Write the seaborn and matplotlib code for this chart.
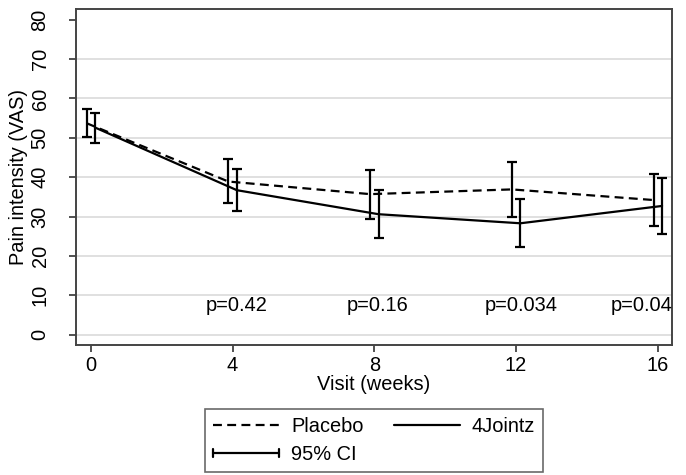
import pandas as pd
import matplotlib
matplotlib.use('Agg')
import matplotlib.pyplot as plt
import seaborn as sns
from matplotlib.lines import Line2D
from matplotlib.legend_handler import HandlerBase

# valores
weeks = [0, 4, 8, 12, 16]
placebo_mean = [53.7, 38.9, 35.7, 36.9, 34.2]
placebo_lo = [50.1, 33.5, 29.5, 29.9, 27.6]
placebo_hi = [57.4, 44.6, 41.8, 43.9, 40.8]
joint_mean = [52.6, 36.7, 30.6, 28.3, 32.7]
joint_lo = [48.8, 31.4, 24.5, 22.2, 25.7]
joint_hi = [56.4, 42.0, 36.7, 34.4, 39.7]
p_labels = ['p=0.42', 'p=0.16', 'p=0.034', 'p=0.04']
p_weeks = [4.1, 8.1, 12.13, 15.53]
p_level = 7.5

offset = 0.12  # desplazamiento horizontal de cada grupo

df = pd.concat([
    pd.DataFrame({'Grupo': 'Placebo', 'x': [w - offset for w in weeks],
                  'media': placebo_mean, 'lo': placebo_lo, 'hi': placebo_hi}),
    pd.DataFrame({'Grupo': '4Jointz', 'x': [w + offset for w in weeks],
                  'media': joint_mean, 'lo': joint_lo, 'hi': joint_hi}),
], ignore_index=True)

sns.set_style('white')
plt.rcParams['font.family'] = ['Liberation Sans', 'DejaVu Sans']
plt.rcParams['text.color'] = 'black'
plt.rcParams['axes.labelcolor'] = 'black'
plt.rcParams['xtick.color'] = 'black'
plt.rcParams['ytick.color'] = 'black'
fs = 14.4

fig = plt.figure(figsize=(6.86, 4.75), dpi=100)
ax = fig.add_axes([76 / 686, 1 - 345 / 475, (672 - 76) / 686, (345 - 9) / 475])

# lineas de referencia
for g in range(0, 80, 10):
    ax.axhline(g, color='#dddddd', lw=1.3, zorder=0)

sns.lineplot(data=df, x='x', y='media', style='Grupo', color='black',
             dashes={'Placebo': (4, 2.4), '4Jointz': ''}, lw=1.6,
             legend=False, ax=ax, errorbar=None)

for _, r in df.iterrows():
    ax.errorbar(r['x'], r['media'], yerr=[[r['media'] - r['lo']], [r['hi'] - r['media']]],
                fmt='none', ecolor='black', elinewidth=1.6, capsize=3.5, capthick=1.6)

for lab, xp in zip(p_labels, p_weeks):
    ax.text(xp, p_level, lab, ha='center', va='center', fontsize=fs)

ax.set_xlim(-0.42, 16.4)
ax.set_ylim(-2.6, 82.7)
ax.set_xticks(weeks)
ax.set_yticks(range(0, 90, 10))
ax.tick_params(axis='both', direction='out', length=5, width=1.2, color='#333333',
               labelsize=fs, left=True, bottom=True)
ax.tick_params(axis='x', pad=3)
ax.tick_params(axis='y', pad=14)
for t in ax.get_yticklabels():
    t.set_rotation(90)
    t.set_va('center')
ax.set_xlabel('Visit (weeks)', fontsize=fs, labelpad=0)
ax.set_ylabel('Pain intensity (VAS)', fontsize=fs, labelpad=2)
for s in ax.spines.values():
    s.set_color('#444444')
    s.set_linewidth(1.4)


# simbolo del intervalo de confianza en la leyenda
class HandlerCI(HandlerBase):
    def create_artists(self, legend, orig_handle, xdescent, ydescent,
                       width, height, fontsize, trans):
        y = height / 2 - ydescent
        x0, x1 = -xdescent, width - xdescent
        h = 3
        arts = [Line2D([x0, x1], [y, y], color='black', lw=1.6),
                Line2D([x0, x0], [y - h, y + h], color='black', lw=1.6),
                Line2D([x1, x1], [y - h, y + h], color='black', lw=1.6)]
        for a in arts:
            a.set_transform(trans)
        return arts


ci_handle = Line2D([], [])
handles = [Line2D([], [], color='black', lw=1.6, dashes=(4, 2.4)),
           ci_handle,
           Line2D([], [], color='black', lw=1.6)]
labels = ['Placebo', '95% CI', '4Jointz']
leg = fig.legend(handles, labels, ncol=2, loc='upper center',
                 bbox_to_anchor=(374 / 686, 1 - 409 / 475), borderaxespad=0,
                 fontsize=fs, frameon=True, fancybox=False, handlelength=3.3,
                 handletextpad=0.6, columnspacing=1.5, labelspacing=0.45,
                 handler_map={ci_handle: HandlerCI()})
leg.get_frame().set_edgecolor('#444444')
leg.get_frame().set_linewidth(1.2)

fig.savefig('out.png', dpi=100)
